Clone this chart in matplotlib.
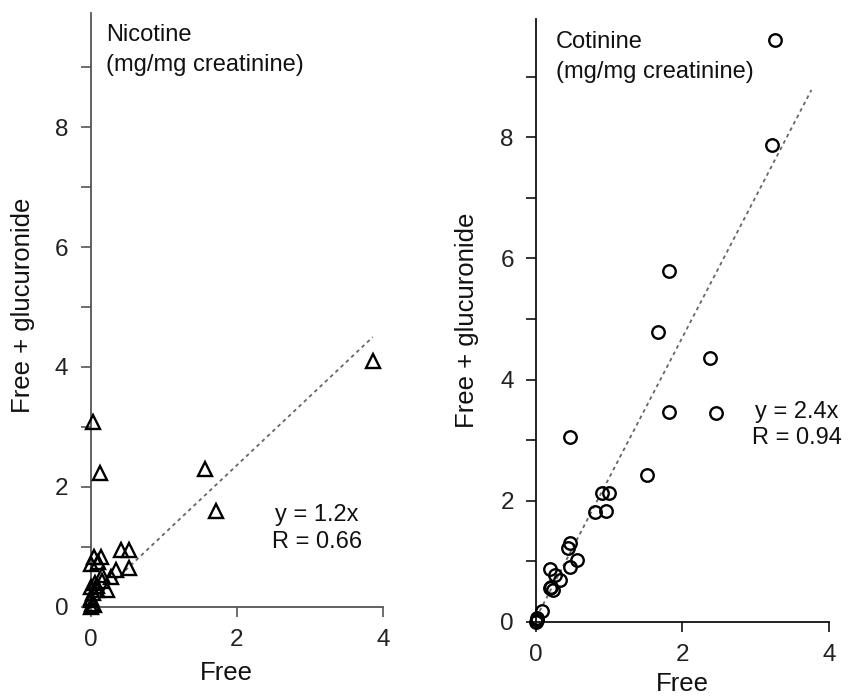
import matplotlib
matplotlib.use('Agg')
import matplotlib.pyplot as plt

plt.rcParams['font.family'] = ['Liberation Sans', 'DejaVu Sans']

# ---------------- data ----------------
nic_free = [0.03, 0.13, 1.56, 1.71, 0.41, 0.52, 0.04, 0.14, 0.00, 0.10, 0.52, 0.35,
            0.28, 0.15, 0.15, 0.23, 0.01, 0.06, 0.03, 0.01, 0.00, 0.04, 3.86, 0.09,
            0.00, 0.08, 0.02]
nic_total = [3.08, 2.23, 2.30, 1.59, 0.94, 0.94, 0.83, 0.83, 0.71, 0.75, 0.64, 0.62,
             0.50, 0.53, 0.42, 0.28, 0.33, 0.39, 0.22, 0.11, 0.00, 0.03, 4.10, 0.28,
             0.15, 0.35, 0.05]

cot_free = [0.46, 1.51, 0.81, 0.96, 0.90, 1.00, 0.46, 0.44, 0.56, 0.46, 0.19, 0.26,
            0.33, 0.19, 0.23, 0.08, 0.01, 0.00, 0.02, 1.81, 1.67, 2.38, 1.82, 2.46,
            3.26, 3.22, 0.20]
cot_total = [3.05, 2.42, 1.82, 1.83, 2.13, 2.13, 1.30, 1.21, 1.02, 0.91, 0.87, 0.77,
             0.69, 0.55, 0.52, 0.17, 0.06, 0.00, 0.03, 5.80, 4.78, 4.36, 3.47, 3.44,
             9.60, 7.88, 0.58]

# fitted lines (slope, intercept, x-range)
nic_fit = (1.15, 0.06, 0.33, 3.86)
cot_fit = (2.32, 0.06, 0.05, 3.76)

x_ticks = [0, 2, 4]
y_ticks = [0, 2, 4, 6, 8]
y_minor = [1, 3, 5, 7, 9]

FS = 17
FS_TICK = 17.5
FS_LABEL = 18.5

fig = plt.figure(figsize=(8.58, 6.97), dpi=100)


def setup(ax, ymax, spine_col):
    ax.set_xlim(0, 4)
    ax.set_ylim(0, ymax)
    for s in ['top', 'right']:
        ax.spines[s].set_visible(False)
    for s in ['left', 'bottom']:
        ax.spines[s].set_color(spine_col)
        ax.spines[s].set_linewidth(1.3)
    ax.set_xticks(x_ticks)
    ax.set_xticklabels([str(v) for v in x_ticks])
    ax.set_yticks(y_ticks)
    ax.set_yticklabels([str(v) for v in y_ticks])
    ax.set_yticks(y_minor, minor=True)
    ax.tick_params(axis='both', which='both', direction='out', length=7, width=1.2,
                   colors=spine_col, labelcolor='#222222', labelsize=FS_TICK)
    ax.tick_params(axis='y', pad=9)
    ax.tick_params(axis='x', pad=9)


def fit_line(ax, fit):
    k, b, x0, x1 = fit
    xs = [x0, x1]
    ys = [k * x + b for x in xs]
    ax.plot(xs, ys, linestyle=(0, (2, 2)), color='#666666', linewidth=1.3, zorder=2)


# ---------------- Nicotine ----------------
ax1 = fig.add_axes([0.1057, 0.1296, 0.3407, 0.8513])
setup(ax1, 9.9, '#555555')
fit_line(ax1, nic_fit)
ax1.plot(nic_free, nic_total, linestyle='none', marker='^', markersize=9.5,
         markerfacecolor='none', markeredgecolor='black', markeredgewidth=1.7,
         clip_on=False, zorder=5)
ax1.text(0.21, 9.53, 'Nicotine', fontsize=FS, ha='left', va='center', color='#111111')
ax1.text(0.21, 9.03, '(mg/mg creatinine)', fontsize=FS, ha='left', va='center', color='#111111')
ax1.text(3.1, 1.53, 'y = 1.2x', fontsize=FS, ha='center', va='center', color='#111111')
ax1.text(3.1, 1.08, 'R = 0.66', fontsize=FS, ha='center', va='center', color='#111111')
ax1.set_xlabel('Free', fontsize=FS_LABEL, color='#111111')
ax1.set_ylabel('Free + glucuronide', fontsize=FS_LABEL, color='#111111')
ax1.xaxis.set_label_coords(0.463, -0.091)
ax1.yaxis.set_label_coords(-0.189, 0.508)

# ---------------- Cotinine ----------------
ax2 = fig.add_axes([0.6247, 0.108, 0.3415, 0.8643])
setup(ax2, 9.95, '#111111')
fit_line(ax2, cot_fit)
ax2.plot(cot_free, cot_total, linestyle='none', marker='o', markersize=9,
         markerfacecolor='none', markeredgecolor='black', markeredgewidth=1.7,
         clip_on=False, zorder=5)
ax2.text(0.27, 9.58, 'Cotinine', fontsize=FS, ha='left', va='center', color='#111111')
ax2.text(0.27, 9.08, '(mg/mg creatinine)', fontsize=FS, ha='left', va='center', color='#111111')
ax2.text(3.56, 3.47, 'y = 2.4x', fontsize=FS, ha='center', va='center', color='#111111')
ax2.text(3.56, 3.03, 'R = 0.94', fontsize=FS, ha='center', va='center', color='#111111')
ax2.set_xlabel('Free', fontsize=FS_LABEL, color='#111111')
ax2.set_ylabel('Free + glucuronide', fontsize=FS_LABEL, color='#111111')
ax2.xaxis.set_label_coords(0.498, -0.083)
ax2.yaxis.set_label_coords(-0.193, 0.501)

fig.savefig('out.png', dpi=100)
